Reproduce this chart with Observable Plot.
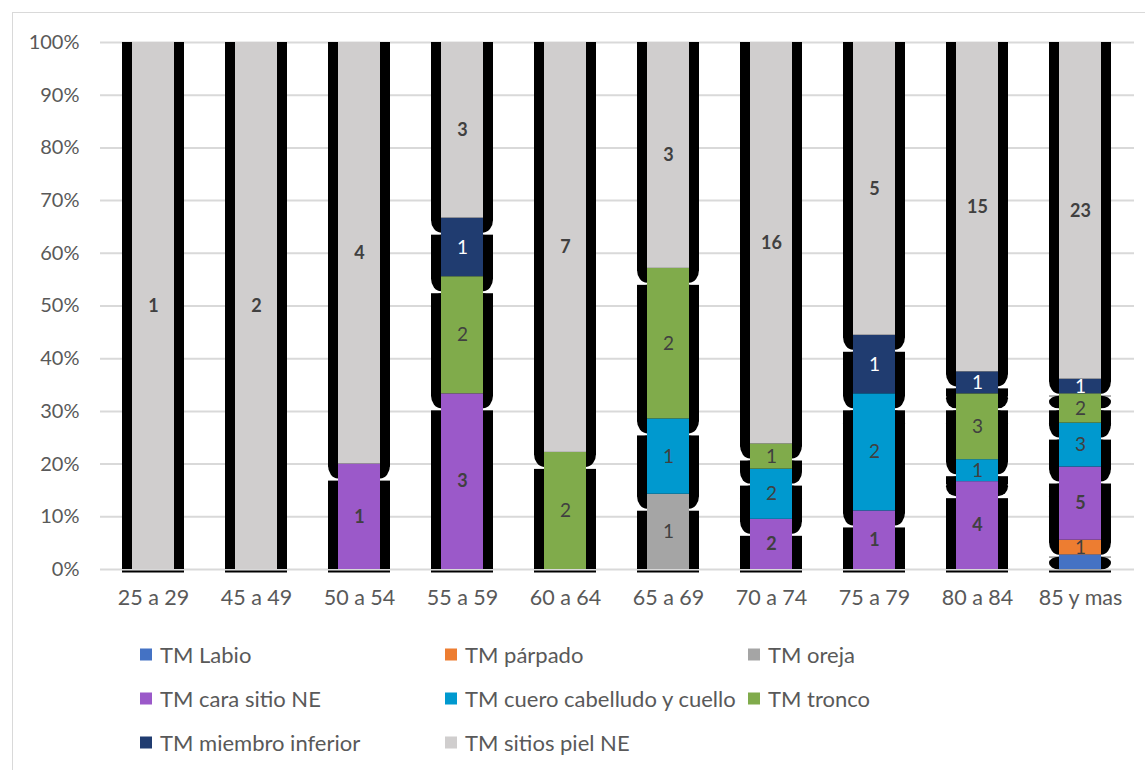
<!DOCTYPE html>
<html><head><meta charset="utf-8">
<script src="https://cdn.jsdelivr.net/npm/d3@7"></script>
<script src="https://cdn.jsdelivr.net/npm/@observablehq/plot@0.6"></script>
<style>
body{margin:0;background:#fff;font-family:Lato,"Open Sans",sans-serif;}
#frame{position:absolute;left:12px;top:12px;width:1145px;height:770px;border:1px solid #d9d9d9;box-sizing:border-box}
#chart{position:absolute;left:0;top:0}
#legend{position:absolute;left:0;top:0}
#chart [aria-label^="x-axis"] text{font-size:21.5px}
.item{position:absolute;display:flex;align-items:center;font-size:22px;color:#595959;white-space:nowrap;transform:translateY(-50%)}
.sw{width:12px;height:12px;margin-right:8px}
</style></head><body>
<div id="frame"></div><div id="chart"></div><div id="legend"></div>
<script>
const categories = ["25 a 29","45 a 49","50 a 54","55 a 59","60 a 64","65 a 69","70 a 74","75 a 79","80 a 84","85 y mas"];
const seriesNames = ["TM Labio","TM párpado","TM oreja","TM cara sitio NE","TM cuero cabelludo y cuello","TM tronco","TM miembro inferior","TM sitios piel NE"];
const seriesColors = ["#4472C4","#ED7D31","#A5A5A5","#9B59C9","#0099CF","#80AB4B","#203C70","#D0CECE"];
const labelColors = ["#404040","#404040","#404040","#404040","#404040","#404040","#ffffff","#404040"];
const labelBold = [false,false,false,true,false,false,false,true];
const labelShown = [false,true,true,true,true,true,true,true];
const yTicks = [0,10,20,30,40,50,60,70,80,90,100];

const labio   = [0,0,0,0,0,0,0,0,0,1];
const parpado = [0,0,0,0,0,0,0,0,0,1];
const oreja   = [0,0,0,0,0,1,0,0,0,0];
const cara    = [0,0,1,3,0,0,2,1,4,5];
const cuero   = [0,0,0,0,0,1,2,2,1,3];
const tronco  = [0,0,0,2,2,2,1,0,3,2];
const miembro = [0,0,0,1,0,0,0,1,1,1];
const piel    = [1,2,4,3,7,3,16,5,15,23];
const seriesValues = [labio,parpado,oreja,cara,cuero,tronco,miembro,piel];

// layout
const W = 1145, H = 625, mT = 42, mB = 56, mL = 100, mR = 11;
const shadowPx = 15;
const off = shadowPx / (H - mT - mB) * 100;

// build stacked rows
const rows = [];
categories.forEach((cat, i) => {
  const total = d3.sum(seriesValues, s => s[i]);
  let cum = 0;
  const catRows = [];
  seriesValues.forEach((s, k) => {
    const v = s[i];
    if (v > 0) {
      catRows.push({cat, k, value: v, y1: cum / total * 100, y2: (cum + v) / total * 100,
        fill: seriesColors[k], lc: labelColors[k], bold: labelBold[k], shown: labelShown[k], isTop: false});
      cum += v;
    }
  });
  catRows[catRows.length - 1].isTop = true;
  rows.push(...catRows);
});

// black "shadow" shapes
const shadows = [];
rows.forEach(d => {
  const top = d.isTop ? d.y2 : d.y2 - off;
  let bottom = d.y1 - off;
  if (top <= 0) return;
  const rounded = bottom > -0.5;
  if (!rounded) bottom = 0;
  shadows.push({cat: d.cat, top, bottom, rounded});
});

const blk = {x: "cat", y1: "bottom", y2: "top", fill: "black", insetLeft: -10, insetRight: -10};

const plot = Plot.plot({
  width: W, height: H,
  marginTop: mT, marginBottom: mB, marginLeft: mL, marginRight: mR,
  style: {fontFamily: 'Lato,"Open Sans",sans-serif', fontSize: "20px", color: "#595959", background: "transparent", overflow: "visible"},
  x: {domain: categories, paddingInner: 0.59, paddingOuter: 0.295, label: null, tickSize: 0, tickPadding: 20},
  y: {domain: [0, 100], ticks: yTicks, tickFormat: d => d + "%", label: null, tickSize: 0, tickPadding: 21},
  marks: [
    Plot.ruleY(yTicks, {stroke: "#d9d9d9", strokeWidth: 2}),
    Plot.tickY(categories, {x: d => d, y: () => 0, dy: 2, stroke: "black", strokeWidth: 2, insetLeft: -10, insetRight: -10}),
    Plot.rectY(shadows.filter(d => d.rounded), {...blk, rx: 10, ry: 13, insetTop: 2}),
    Plot.rectY(shadows.filter(d => d.rounded), {...blk, insetTop: 2, insetBottom: 12}),
    Plot.rectY(shadows.filter(d => !d.rounded), {...blk, insetTop: 2}),
    Plot.rectY(rows.filter(d => d.isTop), {x: "cat", y1: "y1", y2: "y2", fill: "black", insetLeft: -10, insetRight: -10}),
    Plot.rectY(rows, {x: "cat", y1: "y1", y2: "y2", fill: "fill"}),
    Plot.text(rows.filter(d => d.shown && d.bold), {x: "cat", y: d => (d.y1 + d.y2) / 2, text: "value", fill: "lc", fontWeight: "bold", fontSize: 18}),
    Plot.text(rows.filter(d => d.shown && !d.bold), {x: "cat", y: d => (d.y1 + d.y2) / 2, text: "value", fill: "lc", fontSize: 19})
  ]
});
document.getElementById("chart").appendChild(plot);

// legend
const legX = [140, 445, 748];
const legY = [654, 698, 742];
const leg = document.getElementById("legend");
seriesNames.forEach((name, k) => {
  const el = document.createElement("div");
  el.className = "item";
  el.style.left = legX[k % 3] + "px";
  el.style.top = legY[Math.floor(k / 3)] + "px";
  el.innerHTML = `<span class="sw" style="background:${seriesColors[k]}"></span><span>${name}</span>`;
  leg.appendChild(el);
});
</script>
</body></html>
